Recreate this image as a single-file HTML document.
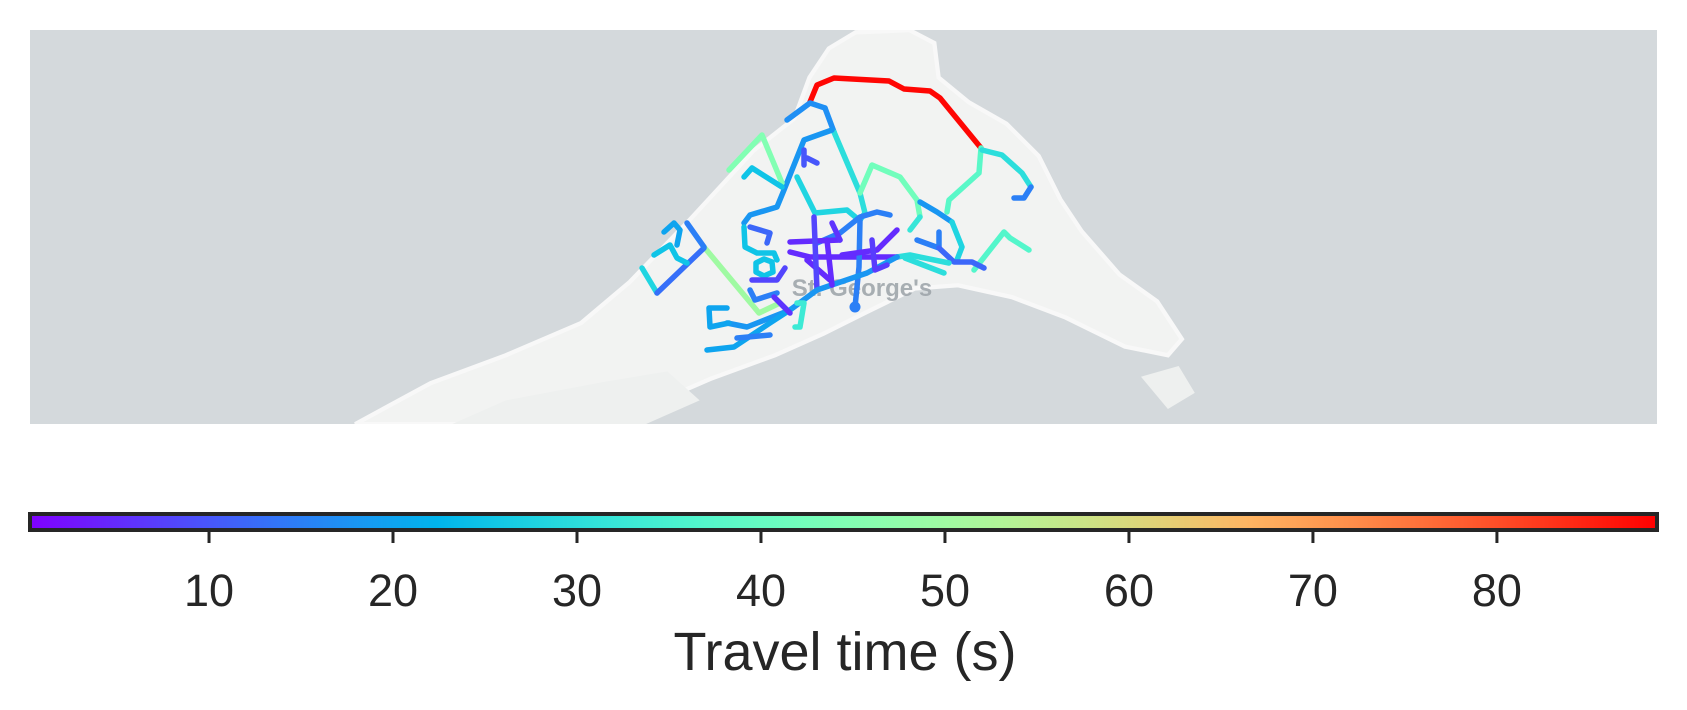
<!DOCTYPE html>
<html><head><meta charset="utf-8"><style>
html,body{margin:0;padding:0;background:#fff;}
svg{display:block;font-family:"Liberation Sans","DejaVu Sans",sans-serif;}
</style></head><body>
<svg id="chart" width="1687" height="710" viewBox="0 0 1687 710">
  <defs>
    <clipPath id="mapclip"><rect x="30" y="30" width="1627" height="394"/></clipPath>
    <linearGradient id="cbgrad" x1="0" x2="1" y1="0" y2="0"></linearGradient>
  </defs>
  <g clip-path="url(#mapclip)">
    <rect x="30" y="30" width="1627" height="394" fill="#d4d9dc"/>
    <g transform="scale(1.0764)">
    <polygon fill="#f2f3f2" stroke="#f8f8f8" stroke-width="4"
      points="330,394 400,356 470,330 540,300 585,262 640,205 700,140 738,110 752,72 770,45 795,30 845,28 868,40 872,72 900,95 935,115 965,145 985,185 1005,215 1040,255 1075,280 1098,315 1085,330 1045,322 990,295 940,276 890,265 850,268 805,290 765,310 720,330 660,352 600,378 565,394"/>
    <polygon fill="#eef0ef" points="420,394 470,372 560,355 620,345 650,372 600,394"/>
    <polygon fill="#eef0ef" points="1060,350 1095,340 1110,365 1085,380"/>
    </g>
    <text x="862" y="296" text-anchor="middle" font-size="24" font-weight="bold" fill="#9ba2a8" opacity="0.85">St. George's</text>
    <g id="roads"></g>
  </g>
  <g id="colorbar">
    <rect x="30" y="514" width="1627" height="16" fill="url(#cbgrad)" stroke="#262626" stroke-width="4"/>
    <g id="cbticks"></g>
    <text x="845" y="670" text-anchor="middle" font-size="54" fill="#262626">Travel time (s)</text>
  </g>
</svg>
<script>
const vmin = 0.27;
const vmax = 88.7;
const tickValues = [10, 20, 30, 40, 50, 60, 70, 80];
const tickLabels = ["10", "20", "30", "40", "50", "60", "70", "80"];
const roadValues = [88, 17, 17, 30, 18, 45, 25, 10, 10, 28, 42, 32, 38, 30, 15, 18, 28, 37, 15, 12, 30, 30, 15, 5, 5, 5, 8, 6, 15, 18, 20, 15, 20, 33, 50, 28, 13, 25, 20, 15, 25, 25, 12, 8, 15, 6, 5, 5, 7];
const roadPaths = [
 [[810,102],[817,85],[834,78],[889,81],[904,89],[930,91],[940,98],[981,148]],
 [[787,120],[810,103],[825,108]],
 [[825,108],[834,132]],
 [[834,132],[860,193],[865,213],[860,220]],
 [[832,130],[804,140],[784,190],[777,207],[750,215],[744,223]],
 [[729,170],[762,135],[782,183]],
 [[744,177],[752,168],[782,187]],
 [[804,150],[804,165]],
 [[807,158],[817,163]],
 [[797,177],[815,213],[847,210],[859,220]],
 [[860,193],[872,165],[900,177],[917,200],[920,217]],
 [[920,217],[910,230]],
 [[981,148],[979,173],[949,200],[947,212]],
 [[982,150],[1002,155],[1022,173],[1031,187]],
 [[1031,187],[1024,198],[1014,198]],
 [[920,202],[937,212],[952,222]],
 [[952,222],[962,247],[957,260]],
 [[974,270],[1004,232],[1010,238],[1029,250]],
 [[917,240],[939,248],[939,232]],
 [[939,248],[954,262],[972,262],[984,268]],
 [[897,257],[910,255],[949,263]],
 [[905,258],[944,273]],
 [[890,215],[877,212],[860,217],[840,233],[817,243]],
 [[790,242],[840,240]],
 [[790,252],[810,257],[897,257]],
 [[807,260],[830,280]],
 [[814,217],[817,290]],
 [[832,223],[840,240]],
 [[860,220],[859,267],[855,307]],
 [[897,257],[867,273],[817,290],[790,310],[747,327],[727,323]],
 [[790,310],[770,323],[734,347],[707,350]],
 [[737,338],[770,335]],
 [[729,323],[710,327],[709,308],[727,308]],
 [[797,303],[804,303],[800,327],[795,327]],
 [[704,247],[759,313],[780,303]],
 [[642,268],[657,293]],
 [[657,293],[704,248]],
 [[654,255],[670,245],[677,258],[687,263]],
 [[664,232],[674,223],[680,230],[677,245]],
 [[687,223],[704,247]],
 [[744,227],[745,247],[757,253],[774,253],[777,260]],
 [[764,259],[772,262],[773,272],[764,276],[756,272],[756,263],[764,259]],
 [[750,227],[770,233],[767,243]],
 [[752,280],[777,280],[785,268]],
 [[750,290],[755,300],[777,293]],
 [[774,297],[790,313]],
 [[827,240],[832,285]],
 [[842,255],[877,250],[897,230]],
 [[872,240],[875,270],[887,265]]
];
function colorScale(v){
  let x = (v - vmin) / (vmax - vmin);
  x = Math.max(0, Math.min(1, x));
  const r = Math.min(1, Math.abs(2*x - 0.5));
  const g = Math.sin(Math.PI * x);
  const b = Math.cos(Math.PI * x / 2);
  return 'rgb(' + Math.round(r*255) + ',' + Math.round(g*255) + ',' + Math.round(b*255) + ')';
}
function cbX(v){ return 30 + (v - vmin) / (vmax - vmin) * 1627; }
const NS = 'http://www.w3.org/2000/svg';
const roads = document.getElementById('roads');
roadPaths.forEach(function(pts, i){
  const pl = document.createElementNS(NS, 'polyline');
  pl.setAttribute('points', pts.map(function(p){return p[0] + ',' + p[1];}).join(' '));
  pl.setAttribute('fill', 'none');
  pl.setAttribute('stroke', colorScale(roadValues[i]));
  pl.setAttribute('stroke-width', '5.5');
  pl.setAttribute('stroke-linecap', 'round');
  pl.setAttribute('stroke-linejoin', 'round');
  
  
  roads.appendChild(pl);
});
const dot = document.createElementNS(NS, 'circle');
dot.setAttribute('cx', roadPaths[28][2][0]);
dot.setAttribute('cy', roadPaths[28][2][1]);
dot.setAttribute('r', '5.5');
dot.setAttribute('fill', colorScale(roadValues[28]));


roads.appendChild(dot);
const grad = document.getElementById('cbgrad');
for (let k = 0; k <= 20; k++){
  const st = document.createElementNS(NS, 'stop');
  st.setAttribute('offset', (k/20));
  st.setAttribute('stop-color', colorScale(vmin + (vmax - vmin) * k / 20));
  grad.appendChild(st);
}
const ticks = document.getElementById('cbticks');
tickValues.forEach(function(v, i){
  const x = cbX(v);
  const ln = document.createElementNS(NS, 'line');
  ln.setAttribute('x1', x); ln.setAttribute('x2', x);
  ln.setAttribute('y1', 532); ln.setAttribute('y2', 543);
  ln.setAttribute('stroke', '#262626'); ln.setAttribute('stroke-width', '3');
  
  
  ticks.appendChild(ln);
  const t = document.createElementNS(NS, 'text');
  t.setAttribute('x', x); t.setAttribute('y', 606);
  t.setAttribute('text-anchor', 'middle');
  t.setAttribute('font-size', '45');
  t.setAttribute('fill', '#262626');
  t.textContent = tickLabels[i];
  
  
  ticks.appendChild(t);
});
</script>
</body></html>
